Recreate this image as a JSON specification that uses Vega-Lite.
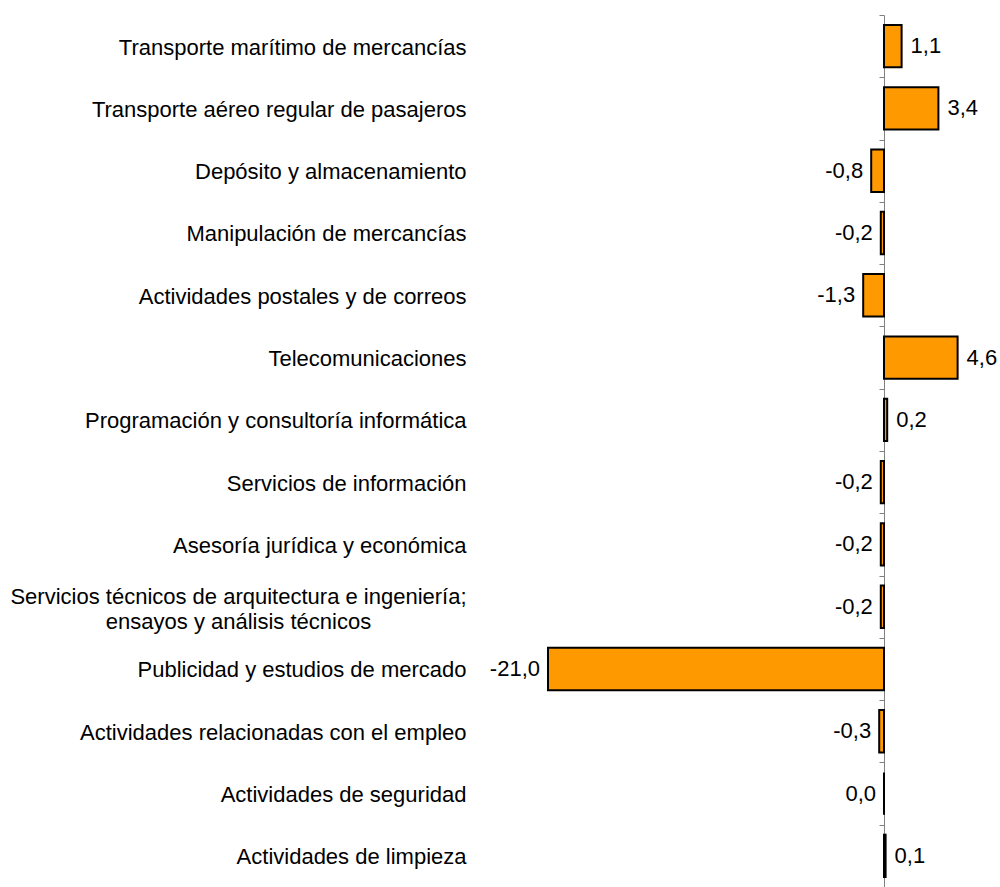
{
  "$schema": "https://vega.github.io/schema/vega-lite/v6.json",
  "width": 112,
  "height": 872,
  "autosize": {"type": "none"},
  "padding": {"left": 884, "top": 15, "right": 4, "bottom": 0},
  "config": {"view": {"stroke": null}, "font": "Liberation Sans"},
  "data": {
    "values": [
      {"cat": "Transporte marítimo de mercancías", "value": 1.1, "label": "1,1"},
      {"cat": "Transporte aéreo regular de pasajeros", "value": 3.4, "label": "3,4"},
      {"cat": "Depósito y almacenamiento", "value": -0.8, "label": "-0,8"},
      {"cat": "Manipulación de mercancías", "value": -0.2, "label": "-0,2"},
      {"cat": "Actividades postales y de correos", "value": -1.3, "label": "-1,3"},
      {"cat": "Telecomunicaciones", "value": 4.6, "label": "4,6"},
      {"cat": "Programación y consultoría informática", "value": 0.2, "label": "0,2"},
      {"cat": "Servicios de información", "value": -0.2, "label": "-0,2"},
      {"cat": "Asesoría jurídica y económica", "value": -0.2, "label": "-0,2"},
      {"cat": "Servicios técnicos de arquitectura e ingeniería;|ensayos y análisis técnicos", "value": -0.2, "label": "-0,2"},
      {"cat": "Publicidad y estudios de mercado", "value": -21.0, "label": "-21,0"},
      {"cat": "Actividades relacionadas con el empleo", "value": -0.3, "label": "-0,3"},
      {"cat": "Actividades de seguridad", "value": 0.0, "label": "0,0"},
      {"cat": "Actividades de limpieza", "value": 0.1, "label": "0,1"}
    ]
  },
  "encoding": {
    "y": {
      "field": "cat",
      "type": "nominal",
      "sort": null,
      "scale": {"paddingInner": 0, "paddingOuter": 0},
      "axis": {
        "title": null,
        "domain": true,
        "domainColor": "#808080",
        "domainWidth": 1,
        "ticks": true,
        "tickColor": "#808080",
        "tickWidth": 1,
        "tickSize": 5,
        "tickOffset": -31.14,
        "labelFontSize": 22,
        "labelColor": "#000000",
        "labelFont": "Liberation Sans",
        "labelLimit": 0,
        "labelLineHeight": 25,
        "labelBaseline": "middle",
        "labelAlign": {"condition": {"test": "indexof(datum.value, '|') >= 0", "value": "center"}, "value": "right"},
        "labelPadding": {"condition": {"test": "indexof(datum.value, '|') >= 0", "value": 641}, "value": 413},
        "labelOffset": {"condition": {"test": "indexof(datum.value, '|') >= 0", "value": 21}, "value": 32},
        "labelExpr": "split(datum.label, '|')"
      }
    },
    "x": {
      "field": "value",
      "type": "quantitative",
      "scale": {"domain": [0, 7], "nice": false, "zero": false},
      "axis": null
    }
  },
  "layer": [
    {"mark": {"type": "bar", "fill": "#FF9900", "stroke": "#000000", "strokeWidth": 2, "height": {"band": 0.68}}},
    {
      "transform": [{"filter": "datum.value > 0"}],
      "mark": {"type": "text", "align": "left", "baseline": "middle", "dx": 9, "fontSize": 22, "color": "#000000"},
      "encoding": {"text": {"field": "label"}}
    },
    {
      "transform": [{"filter": "datum.value <= 0"}],
      "mark": {"type": "text", "align": "right", "baseline": "middle", "dx": -8, "fontSize": 22, "color": "#000000"},
      "encoding": {"text": {"field": "label"}}
    }
  ]
}
